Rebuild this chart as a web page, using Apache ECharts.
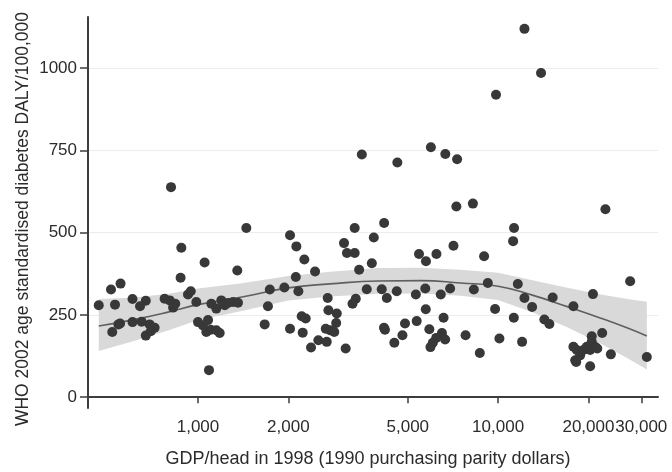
<!DOCTYPE html>
<html>
<head>
<meta charset="utf-8">
<script src="https://cdn.jsdelivr.net/npm/echarts@6/dist/echarts.min.js"></script>
<style>
html,body{margin:0;padding:0;background:#ffffff;}
#chart{width:672px;height:472px;}
</style>
</head>
<body>
<div id="chart"></div>
<script>
// GDP per head (1990 PPP dollars) for each country
const gdp = [
  467, 513, 552, 529, 518, 543, 550, 605, 641, 670,
  605, 649, 670, 690, 703, 717, 696, 774, 805, 840,
  826, 813, 875, 880, 926, 946, 987, 1052, 1000, 1039,
  1080, 1066, 1103, 1151, 1181, 1088, 1108, 1151, 1196, 1228,
  1259, 1308, 1359, 1352, 1449, 1735, 1710, 1668, 2026, 2127,
  2261, 2118, 2455, 1940, 2160, 2026, 2233, 2216, 2285, 2380,
  2518, 2685, 2705, 2720, 2900, 2887, 2665, 2754, 2845, 3105,
  3066, 3327, 3853, 3135, 3327, 3515, 3443, 3795, 3650, 4095,
  4257, 4595, 3355, 3272, 4166, 4197, 4510, 4800, 4895, 4170,
  4616, 5355, 5320, 5720, 5450, 6230, 5750, 5740, 5900, 6580,
  6440, 6920, 5970, 6670, 7300, 7100, 7260, 8240, 8980, 5950,
  6060, 6220, 6500, 6660, 7790, 8300, 8690, 9240, 9770, 10100,
  9840, 11300, 11220, 11280, 11630, 12020, 12240, 12980, 12240, 13900,
  14260, 14820, 15200, 17820, 17820, 18290, 18070, 18760, 19250, 19750,
  20260, 20510, 20510, 21040, 21400, 20260, 18200, 22220, 20700, 23750,
  27540, 31300, 22780
];
// WHO 2002 age standardised diabetes DALY per 100,000
const daly = [
  279, 327, 345, 281, 198, 221, 224, 298, 276, 293,
  228, 229, 187, 221, 208, 211, 200, 299, 294, 284,
  272, 638, 363, 454, 312, 322, 289, 409, 228, 218,
  234, 198, 205, 203, 195, 82, 284, 269, 294, 279,
  286, 289, 287, 385, 514, 327, 276, 221, 492, 458,
  418, 365, 382, 333, 322, 208, 196, 246, 239, 151,
  173, 168, 301, 264, 254, 225, 208, 203, 198, 148,
  468, 514, 485, 438, 438, 737, 387, 407, 328, 328,
  301, 322, 299, 284, 211, 205, 165, 188, 224, 529,
  713, 231, 312, 330, 435, 435, 413, 267, 206, 241,
  312, 330, 759, 739, 723, 460, 579, 588, 428, 152,
  165, 180, 195, 175, 188, 327, 134, 347, 268, 178,
  919, 514, 474, 241, 344, 168, 301, 274, 1119, 985,
  236, 222, 303, 276, 153, 143, 112, 127, 143, 153,
  143, 185, 168, 153, 148, 94, 107, 195, 313, 130,
  352, 122, 571
];
// fitted curve and its confidence band, read at these GDP values
const fitGdp  = [467, 600, 800, 1000, 1400, 2000, 2750, 4000, 5500, 7500, 10000, 13000, 17000, 22000, 27000, 31300];
const fitDaly = [216, 234, 259, 281, 304, 332, 344, 353, 354, 347, 337, 310, 275, 240, 210, 186];
const ciLow   = [140, 168, 203, 234, 262, 294, 306, 314, 315, 308, 295, 258, 212, 162, 118, 84];
const ciHigh  = [298, 302, 314, 330, 346, 368, 381, 392, 393, 387, 378, 355, 332, 312, 298, 290];
// axis ticks
const xTicks = [1000, 2000, 5000, 10000, 20000, 30000];
const yTicks = [0, 250, 500, 750, 1000];
const xTitle = 'GDP/head in 1998 (1990 purchasing parity dollars)';
const yTitle = 'WHO 2002 age standardised diabetes DALY/100,000';

const FONT = "'Liberation Sans', Arial, sans-serif";
const TXT = '#2b2b2b';
const AX = '#3d3d3d';

const chart = echarts.init(document.getElementById('chart'), null, {renderer: 'canvas'});

const scatterData = gdp.map((g, i) => [g, daly[i]]);
const fitData = fitGdp.map((g, i) => [g, fitDaly[i]]);
const bandData = fitGdp.map((g, i) => [g, ciLow[i], ciHigh[i]]);

chart.setOption({
  animation: false,
  backgroundColor: '#ffffff',
  grid: {left: 88, right: 14, top: 17, bottom: 64, containLabel: false},
  xAxis: {
    type: 'log',
    logBase: 10,
    min: 430,
    max: 34100,
    axisLine: {show: true, lineStyle: {color: AX, width: 2}},
    axisTick: {show: true, length: 6, inside: false, lineStyle: {color: AX, width: 1.5}, customValues: xTicks},
    axisLabel: {
      customValues: xTicks,
      margin: 11,
      color: TXT,
      fontSize: 17,
      fontFamily: FONT,
      hideOverlap: false,
      formatter: v => Math.round(v).toLocaleString('en-US')
    },
    splitLine: {show: false},
    minorTick: {show: false},
    minorSplitLine: {show: false}
  },
  yAxis: {
    type: 'value',
    min: -33,
    max: 1155,
    axisLine: {show: true, lineStyle: {color: AX, width: 2}},
    axisTick: {show: true, length: 8, inside: false, lineStyle: {color: AX, width: 1.5}, customValues: yTicks},
    axisLabel: {
      customValues: yTicks,
      margin: 11,
      color: TXT,
      fontSize: 17,
      fontFamily: FONT,
      formatter: v => String(Math.round(v))
    },
    splitLine: {show: true, lineStyle: {color: '#ececec', width: 1.2}}
  },
  graphic: [
    {
      type: 'text',
      x: 368, y: 459,
      style: {text: xTitle, fill: TXT, font: '18px ' + FONT, textAlign: 'center', textVerticalAlign: 'middle'}
    },
    {
      type: 'text',
      x: 23, y: 219,
      rotation: Math.PI / 2,
      style: {text: yTitle, fill: TXT, font: '17.5px ' + FONT, textAlign: 'center', textVerticalAlign: 'middle'}
    }
  ],
  series: [
    {
      type: 'custom',
      name: 'CI',
      data: bandData,
      encode: {x: 0, y: [1, 2]},
      z: 1,
      silent: true,
      renderItem: function (params, api) {
        if (params.dataIndex !== 0) return null;
        const upper = bandData.map(d => api.coord([d[0], d[2]]));
        const lower = bandData.map(d => api.coord([d[0], d[1]])).reverse();
        return {
          type: 'polygon',
          shape: {points: upper.concat(lower)},
          style: {fill: '#d9d9d9', stroke: null}
        };
      }
    },
    {
      type: 'line',
      name: 'Fit',
      data: fitData,
      smooth: 0.5,
      symbol: 'none',
      z: 2,
      lineStyle: {color: '#5f5f5f', width: 1.6},
      silent: true
    },
    {
      type: 'scatter',
      name: 'Countries',
      data: scatterData,
      symbol: 'circle',
      symbolSize: 10,
      z: 3,
      itemStyle: {color: '#383838', opacity: 1},
      silent: true
    }
  ]
});
</script>
</body>
</html>
